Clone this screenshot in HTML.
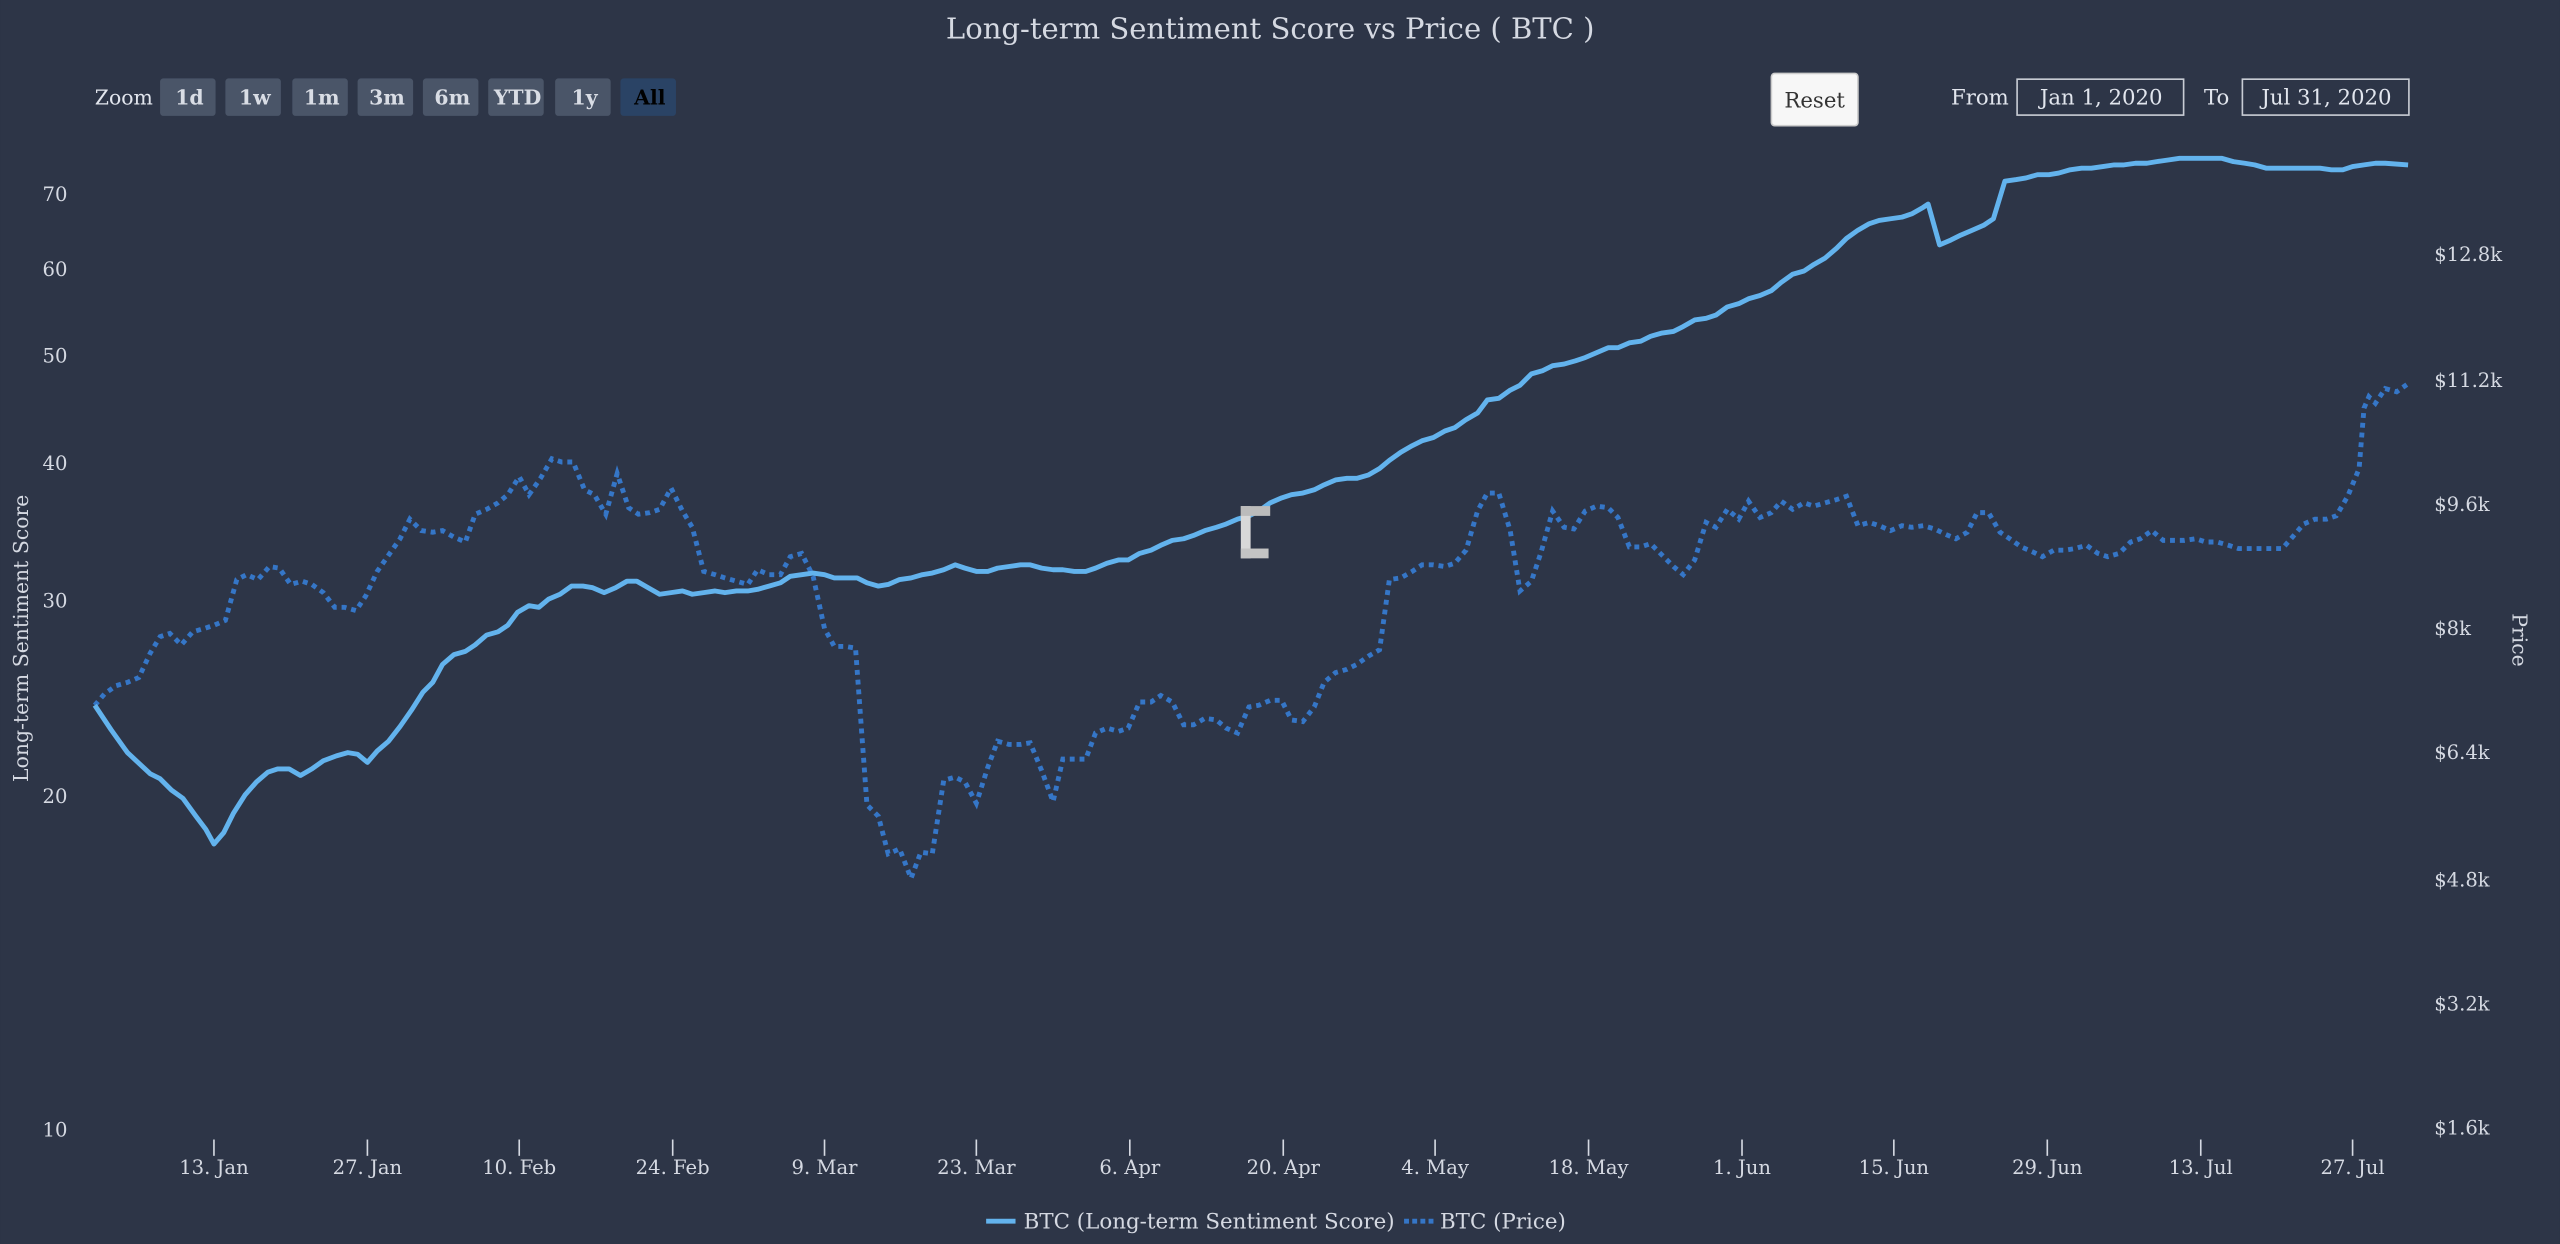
<!DOCTYPE html>
<html><head><meta charset="utf-8"><style>
html,body{margin:0;padding:0;background:#2d3547;}
svg{display:block}
text{font-family:"DejaVu Serif","Liberation Serif",serif;}
</style></head><body>
<svg width="2560" height="1244" viewBox="0 0 1568 762" xmlns="http://www.w3.org/2000/svg">
<rect width="1568" height="762" fill="#2d3547"/>
<text x="778" y="23.5" text-anchor="middle" font-size="17.8" fill="#d5d9e2">Long-term Sentiment Score vs Price ( BTC )</text>
<text x="58" y="64" font-size="12.5" fill="#e2e6ee">Zoom</text>
<g font-size="12.5" font-weight="bold" text-anchor="middle" fill="#d9dde5">
<rect x="98" y="48" width="34" height="23" rx="2" fill="#4a5568"/><text x="116" y="64">1d</text>
<rect x="138" y="48" width="34" height="23" rx="2" fill="#4a5568"/><text x="156" y="64">1w</text>
<rect x="179" y="48" width="34" height="23" rx="2" fill="#4a5568"/><text x="197" y="64">1m</text>
<rect x="219" y="48" width="34" height="23" rx="2" fill="#4a5568"/><text x="237" y="64">3m</text>
<rect x="259" y="48" width="34" height="23" rx="2" fill="#4a5568"/><text x="277" y="64">6m</text>
<rect x="299" y="48" width="34" height="23" rx="2" fill="#4a5568"/><text x="317" y="64">YTD</text>
<rect x="340" y="48" width="34" height="23" rx="2" fill="#4a5568"/><text x="358" y="64">1y</text>
<rect x="380" y="48" width="34" height="23" rx="2" fill="#2a4365"/><text x="398" y="64" fill="#000">All</text>
</g>
<rect x="1085" y="45" width="53" height="32" rx="2" fill="#f7f7f7" stroke="#ccc"/>
<text x="1111.5" y="66" text-anchor="middle" font-size="13" fill="#333">Reset</text>
<text x="1195" y="64" font-size="13" fill="#e2e6ee">From</text>
<rect x="1235.5" y="48.5" width="102" height="22" fill="none" stroke="#c8ccd4"/>
<text x="1287" y="64" text-anchor="middle" font-size="13" fill="#e2e6ee">Jan 1, 2020</text>
<text x="1350" y="64" font-size="13" fill="#e2e6ee">To</text>
<rect x="1373.5" y="48.5" width="102" height="22" fill="none" stroke="#c8ccd4"/>
<text x="1425" y="64" text-anchor="middle" font-size="13" fill="#e2e6ee">Jul 31, 2020</text>
<g font-size="12" fill="#d5d9e2">
<text x="26" y="123">70</text><text x="26" y="169">60</text><text x="26" y="222">50</text><text x="26" y="288">40</text><text x="26" y="372">30</text><text x="26" y="492">20</text><text x="26" y="696">10</text>
<text x="1491" y="160">$12.8k</text><text x="1491" y="237">$11.2k</text><text x="1491" y="313">$9.6k</text><text x="1491" y="389">$8k</text><text x="1491" y="465">$6.4k</text><text x="1491" y="543">$4.8k</text><text x="1491" y="619">$3.2k</text><text x="1491" y="695">$1.6k</text>
</g>
<text transform="translate(17,391) rotate(-90)" text-anchor="middle" font-size="12.5" fill="#d5d9e2">Long-term Sentiment Score</text>
<text transform="translate(1539,392) rotate(90)" text-anchor="middle" font-size="12.5" fill="#d5d9e2">Price</text>
<g stroke="#d5d9e2" stroke-width="1">
<line x1="131" y1="698" x2="131" y2="708"/><line x1="225" y1="698" x2="225" y2="708"/><line x1="318" y1="698" x2="318" y2="708"/><line x1="412" y1="698" x2="412" y2="708"/><line x1="505" y1="698" x2="505" y2="708"/><line x1="598" y1="698" x2="598" y2="708"/><line x1="692" y1="698" x2="692" y2="708"/><line x1="786" y1="698" x2="786" y2="708"/><line x1="879" y1="698" x2="879" y2="708"/><line x1="973" y1="698" x2="973" y2="708"/><line x1="1067" y1="698" x2="1067" y2="708"/><line x1="1160" y1="698" x2="1160" y2="708"/><line x1="1254" y1="698" x2="1254" y2="708"/><line x1="1348" y1="698" x2="1348" y2="708"/><line x1="1441" y1="698" x2="1441" y2="708"/>
</g>
<g font-size="12" fill="#d5d9e2" text-anchor="middle">
<text x="131" y="719">13. Jan</text><text x="225" y="719">27. Jan</text><text x="318" y="719">10. Feb</text><text x="412" y="719">24. Feb</text><text x="505" y="719">9. Mar</text><text x="598" y="719">23. Mar</text><text x="692" y="719">6. Apr</text><text x="786" y="719">20. Apr</text><text x="879" y="719">4. May</text><text x="973" y="719">18. May</text><text x="1067" y="719">1. Jun</text><text x="1160" y="719">15. Jun</text><text x="1254" y="719">29. Jun</text><text x="1348" y="719">13. Jul</text><text x="1441" y="719">27. Jul</text>
</g>
<polyline fill="none" stroke="#3576c7" stroke-width="3" stroke-dasharray="3,3" points="58,432 64,425 71,420 78,418 85,415 92,400 98,390 104,388 111,395 118,387 125,385 131,383 138,380 145,355 151,352 158,355 165,347 171,348 178,358 185,356 191,358 198,363 205,372 211,372 218,374 224,365 231,350 238,340 245,330 251,318 258,325 265,326 271,325 278,329 285,332 291,315 298,312 305,308 311,303 318,292 324,303 331,293 338,281 344,283 351,283 358,300 364,303 371,315 378,290 385,311 391,315 398,314 404,312 411,299 418,313 424,323 431,350 438,352 444,354 451,356 458,358 464,349 471,352 478,352 484,341 491,339 498,353 505,385 511,396 518,396 524,397 531,493 538,500 544,523 551,520 558,538 564,522 571,523 578,478 585,476 591,479 598,492 605,470 611,454 618,456 625,456 631,455 638,472 645,491 651,465 658,465 665,465 671,449 678,446 685,448 691,446 698,430 705,430 711,426 718,430 725,444 731,444 738,440 745,441 751,446 758,449 765,433 771,432 778,429 785,429 791,441 798,442 805,433 811,418 818,412 825,410 831,407 838,402 845,398 851,355 858,354 865,350 871,346 878,346 885,347 891,345 898,337 905,313 911,302 918,302 925,325 931,362 938,356 944,338 951,313 958,323 964,324 971,313 978,310 985,311 991,317 998,335 1005,335 1011,333 1018,340 1025,347 1031,352 1038,343 1045,320 1051,323 1058,312 1065,318 1071,307 1078,317 1085,314 1091,307 1098,312 1105,308 1111,310 1118,308 1125,306 1131,304 1138,322 1145,320 1151,322 1158,325 1165,322 1171,323 1178,322 1185,324 1191,327 1198,330 1205,326 1211,314 1218,314 1225,326 1231,330 1238,335 1245,338 1251,341 1258,337 1265,337 1271,336 1278,334 1285,339 1291,341 1298,339 1305,332 1311,330 1318,325 1325,331 1331,331 1338,331 1345,330 1351,332 1358,332 1365,334 1371,336 1378,336 1385,336 1391,336 1398,336 1405,328 1411,321 1418,318 1425,318 1431,316 1438,304 1445,287 1448,250 1451,243 1455,247 1461,238 1468,240 1475,235"/>
<polyline fill="none" stroke="#63b3ed" stroke-width="3" stroke-linejoin="round" points="58,432 68,447 78,461 92,474 98,477 105,484 112,489 120,500 126,508 131,517 137,510 143,498 150,487 157,479 164,473 170,471 177,471 184,475 191,471 198,466 206,463 213,461 219,462 225,467 231,460 238,454 245,445 252,435 259,424 265,418 271,407 278,401 285,399 291,395 298,389 305,387 311,383 317,375 324,371 330,372 336,367 343,364 350,359 357,359 363,360 370,363 377,360 384,356 390,356 397,360 404,364 411,363 418,362 424,364 431,363 438,362 444,363 451,362 458,362 464,361 471,359 478,357 484,353 491,352 498,351 505,352 511,354 518,354 525,354 531,357 538,359 544,358 551,355 558,354 565,352 571,351 578,349 585,346 591,348 598,350 605,350 611,348 618,347 625,346 631,346 638,348 645,349 651,349 658,350 665,350 671,348 678,345 685,343 691,343 698,339 705,337 711,334 718,331 725,330 731,328 738,325 745,323 751,321 758,318 765,316 771,313 778,308 785,305 791,303 798,302 805,300 811,297 818,294 825,293 831,293 838,291 845,287 851,282 858,277 865,273 871,270 878,268 885,264 891,262 898,257 905,253 911,245 918,244 925,239 931,236 938,229 945,227 951,224 958,223 965,221 971,219 978,216 985,213 991,213 998,210 1005,209 1011,206 1018,204 1025,203 1031,200 1038,196 1045,195 1051,193 1058,188 1065,186 1071,183 1078,181 1085,178 1091,173 1098,168 1105,166 1111,162 1118,158 1125,152 1131,146 1138,141 1145,137 1151,135 1158,134 1165,133 1171,131 1178,127 1181,125 1188,150 1195,147 1201,144 1208,141 1215,138 1221,134 1228,111 1235,110 1241,109 1248,107 1255,107 1261,106 1268,104 1275,103 1281,103 1288,102 1295,101 1301,101 1308,100 1315,100 1321,99 1328,98 1335,97 1341,97 1348,97 1355,97 1361,97 1368,99 1375,100 1381,101 1388,103 1395,103 1401,103 1408,103 1415,103 1421,103 1428,104 1435,104 1441,102 1448,101 1455,100 1461,100 1475,101"/>
<g fill="#d8d8d8">
<rect x="760" y="310" width="6" height="32"/><rect x="760" y="310" width="18" height="6" fill="#bbb"/><rect x="760" y="336" width="17" height="6" fill="#c4c4c4"/>
</g>
<line x1="604" y1="748" x2="622" y2="748" stroke="#63b3ed" stroke-width="3"/>
<text x="627" y="752.5" font-size="13.1" fill="#d5d9e2">BTC (Long-term Sentiment Score)</text>
<line x1="860" y1="748" x2="878" y2="748" stroke="#3576c7" stroke-width="3" stroke-dasharray="3,2"/>
<text x="882" y="752.5" font-size="13.1" fill="#d5d9e2">BTC (Price)</text>
</svg>
</body></html>
